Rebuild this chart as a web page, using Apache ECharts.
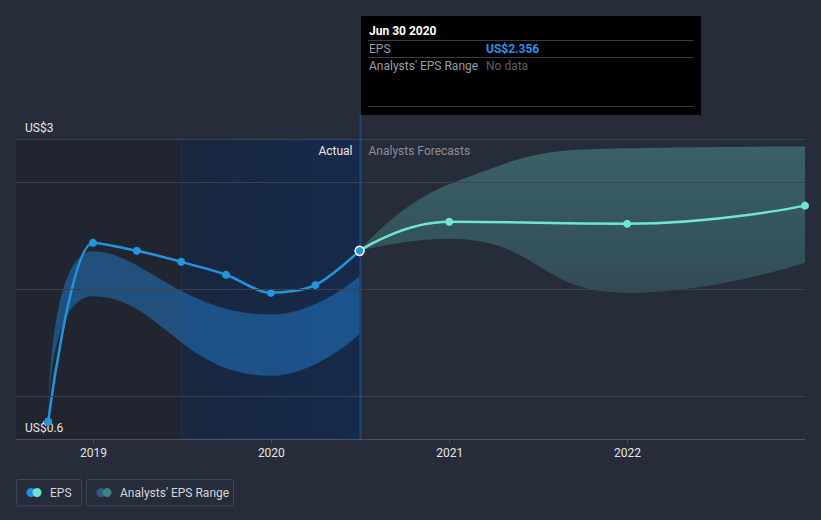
<!DOCTYPE html>
<html><head><meta charset="utf-8">
<script src="https://cdn.jsdelivr.net/npm/echarts@6/dist/echarts.min.js"></script>
<style>html,body{margin:0;padding:0;background:#262c39;}#c{width:821px;height:520px;}</style>
</head><body><div id="c"></div>
<script>
// ---- data ----
const actualDates = ['2018-09-30','2018-12-31','2019-03-31','2019-06-30','2019-09-30','2019-12-31','2020-03-31','2020-06-30'];
const epsActual = [0.764, 2.432, 2.357, 2.254, 2.133, 1.964, 2.036, 2.356];
const actualRangeDates = ['2018-09-30','2018-12-31','2019-12-31','2020-06-30'];
const actualRangeLow = [0.764, 1.933, 1.19, 1.581];
const actualRangeHigh = [0.764, 2.353, 1.762, 2.12];
const forecastDates = ['2020-06-30','2020-12-31','2021-12-31','2022-12-31'];
const epsForecast = [2.356, 2.628, 2.609, 2.778];
const forecastLow = [2.356, 2.469, 1.964, 2.245];
const forecastHigh = [2.356, 2.977, 3.313, 3.329];
const xMin = '2018-07-26';
const xMax = '2022-12-31';
const ltmStart = '2019-06-30';
const hoverDate = '2020-06-30';
const hoverTitle = 'Jun 30 2020';
const yMin = 0.6, yMax = 3.4;
const yTickValues = [0.6, 3.4];
const yTickLabels = ['US$0.6', 'US$3'];
const yGridValues = [1, 2, 3, 3.4];

const FONT = 'Roboto, "Noto Sans", sans-serif';
const BLUE = '#2394df', TEAL = '#6ee6d2';
function pairs(d, v) { return d.map((x, i) => [x, v[i]]); }
function diffs(lo, hi) { return lo.map((x, i) => +(hi[i] - x).toFixed(4)); }

const chart = echarts.init(document.getElementById('c'), null, { renderer: 'svg' });

const actualLineData = pairs(actualDates, epsActual).map((p, i, arr) => i === arr.length - 1
  ? { value: p, symbolSize: 9, itemStyle: { color: BLUE, borderColor: '#ffffff', borderWidth: 1.5 } }
  : p);
const forecastLineData = pairs(forecastDates, epsForecast).map((p, i) => i === 0 ? { value: p, symbol: 'none' } : p);

const hidden = { lineStyle: { opacity: 0 }, symbol: 'none', silent: true };

chart.setOption({
  backgroundColor: '#262c39',
  animation: false,
  grid: { left: 16, right: 16, top: 139, bottom: 81 },
  xAxis: {
    type: 'time', min: xMin, max: xMax, z: 6,
    axisLine: { lineStyle: { color: '#4b5160', width: 1 } },
    axisTick: { show: true, length: 4, lineStyle: { color: '#4b5160' } },
    axisLabel: { formatter: '{yyyy}', color: '#e6e6e6', fontSize: 12, fontFamily: FONT, margin: 8, showMinLabel: false, showMaxLabel: false },
    splitLine: { show: false },
    minInterval: 365 * 24 * 3600 * 1000
  },
  yAxis: {
    type: 'value', min: yMin, max: yMax, z: 2,
    axisLine: { show: false }, axisTick: { show: false },
    splitLine: { show: false },
    axisLabel: {
      inside: true, margin: 9, customValues: yTickValues, showMinLabel: true, showMaxLabel: true,
      formatter: v => { const i = yTickValues.findIndex(t => Math.abs(t - v) < 1e-6); return i >= 0 ? yTickLabels[i] : ''; },
      color: '#e6e6e6', fontSize: 12, fontFamily: FONT, verticalAlign: 'bottom', padding: [0, 0, 5, 0]
    }
  },
  series: [
    Object.assign({
      type: 'line', name: 'backdrop', data: pairs(actualDates, epsActual), z: 0,
      markArea: {
        silent: true,
        data: [
          [{ xAxis: xMin, itemStyle: { color: '#20252f' } }, { xAxis: ltmStart }],
          [{ xAxis: ltmStart, itemStyle: { color: { type: 'linear', x: 0, y: 0, x2: 1, y2: 0, colorStops: [{ offset: 0, color: '#19273f' }, { offset: 1, color: '#162a4a' }] }, borderColor: '#1d3252', borderWidth: 1 } }, { xAxis: hoverDate }]
        ]
      },
      markLine: {
        silent: true, symbol: 'none', label: { show: false },
        lineStyle: { color: '#3a4150', width: 1, type: 'solid' },
        data: yGridValues.map(v => ({ yAxis: v }))
      }
    }, hidden),
    Object.assign({ type: 'line', data: pairs(actualRangeDates, actualRangeLow), stack: 'act', smooth: 0.5, z: 1 }, hidden),
    Object.assign({ type: 'line', data: pairs(actualRangeDates, diffs(actualRangeLow, actualRangeHigh)), stack: 'act', smooth: 0.5, z: 1,
      areaStyle: { color: 'rgba(36,140,230,0.42)', opacity: 1 } }, hidden),
    Object.assign({ type: 'line', data: pairs(forecastDates, forecastLow), stack: 'fc', smooth: 0.5, z: 1 }, hidden),
    Object.assign({ type: 'line', data: pairs(forecastDates, diffs(forecastLow, forecastHigh)), stack: 'fc', smooth: 0.5, z: 1,
      areaStyle: { opacity: 1, color: { type: 'linear', x: 0, y: 0, x2: 0, y2: 1, colorStops: [{ offset: 0, color: 'rgba(95,200,190,0.34)' }, { offset: 1, color: 'rgba(95,200,190,0.2)' }] } } }, hidden),
    {
      type: 'line', name: 'EPS forecast', data: forecastLineData, smooth: 0.5, z: 3,
      symbol: 'circle', symbolSize: 8, showSymbol: true,
      lineStyle: { color: TEAL, width: 2.5 }, itemStyle: { color: TEAL }
    },
    {
      type: 'line', name: 'EPS', data: actualLineData, smooth: 0.3, z: 4,
      symbol: 'circle', symbolSize: 8, showSymbol: true,
      lineStyle: { color: BLUE, width: 2.5 }, itemStyle: { color: BLUE }
    }
  ]
});

// overlay: crosshair, tooltip box, region labels, legend
const hoverIdx = actualDates.indexOf(hoverDate);
const hx = Math.round(chart.convertToPixel({ xAxisIndex: 0 }, hoverDate)) + 0.5;
const yBottom = chart.convertToPixel({ yAxisIndex: 0 }, yMin);
const tipLeft = hx + 0.5, tipTop = 16, tipW = 340, tipH = 99;
const epsText = 'US$' + epsActual[hoverIdx].toFixed(3);

function txt(x, y, text, color, opts) {
  return { type: 'text', x: x, y: y, z: 20, silent: true, style: Object.assign({ text: text, fill: color, font: '12px ' + FONT, textVerticalAlign: 'middle' }, opts || {}) };
}
function sepLine(y) {
  return { type: 'line', z: 20, silent: true, shape: { x1: tipLeft + 7, y1: y, x2: tipLeft + 332, y2: y }, style: { stroke: '#3c3c3c', lineWidth: 1 } };
}
function legendItem(x, w, c1, c2, label) {
  return [
    { type: 'rect', z: 20, silent: true, shape: { x: x + 0.5, y: 479.5, width: w, height: 26.5, r: 2 }, style: { fill: 'none', stroke: '#3e4554', lineWidth: 1 } },
    { type: 'circle', z: 20, silent: true, shape: { cx: x + 15, cy: 492.5, r: 4.5 }, style: { fill: c1 } },
    { type: 'circle', z: 20, silent: true, shape: { cx: x + 21, cy: 492.5, r: 4.5 }, style: { fill: c2 } },
    txt(x + 34, 493, label, '#d3d6db')
  ];
}

chart.setOption({
  graphic: [
    { type: 'line', silent: true, z: 2, shape: { x1: hx, y1: tipTop + tipH, x2: hx, y2: yBottom }, style: { stroke: '#1f4674', lineWidth: 2 } },
    txt(hx - 8, 151, 'Actual', '#e8e8e8', { textAlign: 'right' }),
    txt(hx + 8, 151, 'Analysts Forecasts', '#8a8f98'),
    { type: 'rect', silent: true, z: 19, shape: { x: tipLeft, y: tipTop, width: tipW, height: tipH }, style: { fill: '#000000' } },
    txt(tipLeft + 8, 31, hoverTitle, '#ffffff', { font: 'bold 12px ' + FONT }),
    sepLine(40.5),
    txt(tipLeft + 8, 48.5, 'EPS', '#9a9ea5'),
    txt(tipLeft + 125, 48.5, epsText, '#1f95ea', { font: 'bold 12px ' + FONT }),
    sepLine(57.5),
    txt(tipLeft + 8, 65.5, "Analysts' EPS Range", '#9a9ea5'),
    txt(tipLeft + 125, 65.5, 'No data', '#5d6066'),
    sepLine(106.5),
    ...legendItem(16, 65, '#1e8fe6', '#6de2d0', 'EPS'),
    ...legendItem(86, 147, '#2a5d86', '#3f7f7c', "Analysts' EPS Range")
  ]
});
</script>
</body></html>
